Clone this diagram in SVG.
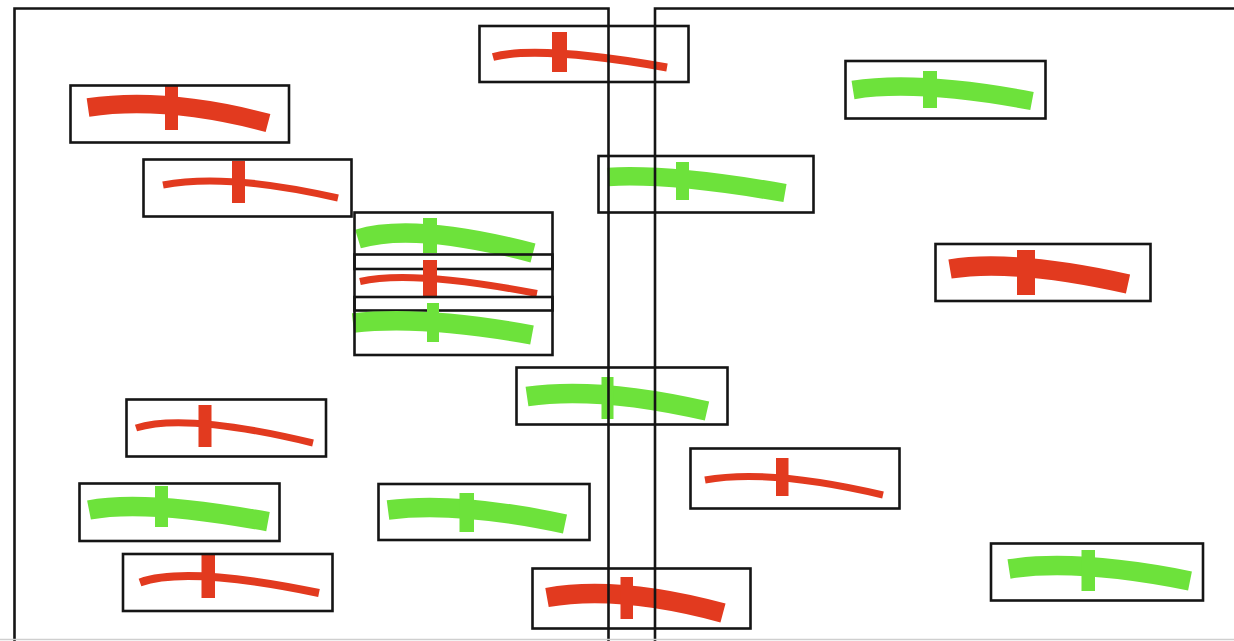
<svg xmlns="http://www.w3.org/2000/svg" width="1234" height="641" viewBox="0 0 1234 641">
  <style>
    .box { fill: none; stroke: #151515; stroke-width: 2.6; }
    .frame { fill: none; stroke: #151515; stroke-width: 2.6; }
    .arc { fill: none; stroke-linecap: butt; }
    .red { stroke: #E23A1F; }
    .green { stroke: #6DE23B; }
    .thick { stroke-width: 18.5; }
    .thin { stroke-width: 7; }
    .mark-red { fill: #E23A1F; }
    .mark-green { fill: #6DE23B; }
  </style>
  <rect x="0" y="0" width="1234" height="641" fill="#ffffff"/>

  <!-- red, thick, upper left -->
  <g id="g-r1">
    <path class="arc red thick" d="M88,107.5 Q166,96 268,123"/>
    <rect class="mark-red" x="165" y="86" width="13" height="44"/>
    <rect class="box" x="70.5" y="85.5" width="218.5" height="57"/>
  </g>
  <!-- red, thin, upper left -->
  <g id="g-r2">
    <path class="arc red thin" d="M163,185 Q226.5,172.5 338,198"/>
    <rect class="mark-red" x="232" y="161" width="13" height="42"/>
    <rect class="box" x="143.5" y="159.5" width="208" height="57"/>
  </g>
  <!-- red, thin, top centre -->
  <g id="g-r3">
    <path class="arc red thin" d="M493,57 Q539,45 667,67.5" style="stroke-width:8"/>
    <rect class="mark-red" x="552" y="32" width="15" height="40"/>
    <rect class="box" x="479.5" y="26" width="209" height="56"/>
  </g>
  <!-- green, upper centre -->
  <g id="g-g1">
    <path class="arc green thick" d="M608,177 Q668.5,173 785,193"/>
    <rect class="mark-green" x="676" y="162" width="13" height="38"/>
    <rect class="box" x="598.5" y="156" width="215" height="56.5"/>
  </g>
  <!-- green, top right -->
  <g id="g-g2">
    <path class="arc green thick" d="M853,90 Q918,79.6 1032,101"/>
    <rect class="mark-green" x="923" y="71" width="14" height="37"/>
    <rect class="box" x="845.5" y="61" width="200" height="57.5"/>
  </g>
  <!-- red, thick, right -->
  <g id="g-r4">
    <path class="arc red thick" d="M950,269 Q1012.4,258.5 1128,284" style="stroke-width:19.5"/>
    <rect class="mark-red" x="1017" y="250" width="18" height="45"/>
    <rect class="box" x="935.5" y="244" width="215" height="57"/>
  </g>
  <!-- stacked trio, left of centre -->
  <g id="g-stack-a">
    <path class="arc green thick" d="M358,239 Q414,222 533,253" style="stroke-width:19.5"/>
    <rect class="mark-green" x="423" y="218" width="14" height="35"/>
    <rect class="box" x="354.5" y="212.5" width="198" height="56.5"/>
  </g>
  <g id="g-stack-b">
    <path class="arc red thin" d="M360,281.5 Q411.5,269.5 537,293.5"/>
    <rect class="mark-red" x="423" y="260" width="14" height="37"/>
    <rect class="box" x="354.5" y="254.5" width="198" height="56"/>
  </g>
  <g id="g-stack-c">
    <path class="arc green thick" d="M353,323 Q423.5,315 532,335" style="stroke-width:19.5"/>
    <rect class="mark-green" x="427" y="303" width="12" height="39"/>
    <rect class="box" x="354.5" y="297" width="198" height="58"/>
  </g>
  <!-- green, centre -->
  <g id="g-g3">
    <path class="arc green thick" d="M527,396.5 Q598,386 707,411" style="stroke-width:19.5"/>
    <rect class="mark-green" x="601.5" y="377" width="12" height="42"/>
    <rect class="box" x="516.5" y="367.5" width="211" height="57"/>
  </g>
  <!-- red, thin, right of centre -->
  <g id="g-r5">
    <path class="arc red thin" d="M705,480 Q770,468.5 883,495"/>
    <rect class="mark-red" x="776" y="458" width="12.5" height="38"/>
    <rect class="box" x="690.5" y="448.5" width="209" height="60"/>
  </g>
  <!-- red, thin, lower left -->
  <g id="g-r6">
    <path class="arc red thin" d="M136,428 Q185.3,412.3 313,443"/>
    <rect class="mark-red" x="198.5" y="405" width="13" height="42"/>
    <rect class="box" x="126.5" y="399.5" width="199.5" height="57"/>
  </g>
  <!-- green, lower left -->
  <g id="g-g4">
    <path class="arc green thick" d="M89,510 Q144.6,499 268,521.7" style="stroke-width:19.5"/>
    <rect class="mark-green" x="155" y="486" width="13" height="41"/>
    <rect class="box" x="79.5" y="483.5" width="200" height="57.5"/>
  </g>
  <!-- green, lower middle -->
  <g id="g-g5">
    <path class="arc green thick" d="M388,510 Q456.7,501 565,524" style="stroke-width:19.5"/>
    <rect class="mark-green" x="459.5" y="493" width="14.5" height="39"/>
    <rect class="box" x="378.5" y="484" width="211" height="56"/>
  </g>
  <!-- red, thin, bottom left -->
  <g id="g-r7">
    <path class="arc red thin" d="M140,582.5 Q187,565.6 319,593" style="stroke-width:8"/>
    <rect class="mark-red" x="201.5" y="555" width="13.5" height="43"/>
    <rect class="box" x="123" y="554" width="209.5" height="57"/>
  </g>
  <!-- red, thick, bottom centre -->
  <g id="g-r8">
    <path class="arc red thick" d="M547,597.5 Q618.4,584.75 723,613" style="stroke-width:19.5"/>
    <rect class="mark-red" x="620.5" y="577" width="12.5" height="42"/>
    <rect class="box" x="532.5" y="568.5" width="218" height="60"/>
  </g>
  <!-- green, bottom right -->
  <g id="g-g6">
    <path class="arc green thick" d="M1009,569 Q1077,558.4 1190,581" style="stroke-width:19.5"/>
    <rect class="mark-green" x="1081.5" y="550" width="13.5" height="41"/>
    <rect class="box" x="991" y="543.5" width="212" height="57"/>
  </g>

  <!-- the two open panels and the channel between them -->
  <g id="frames">
    <path class="frame" d="M14.5,641 V8.5 H608.5 V641"/>
    <path class="frame" d="M655,641 V8.5 H1234"/>
    <line x1="0" y1="639.5" x2="1234" y2="639.5" stroke="#cfcfcf" stroke-width="1.5"/>
  </g>
</svg>
